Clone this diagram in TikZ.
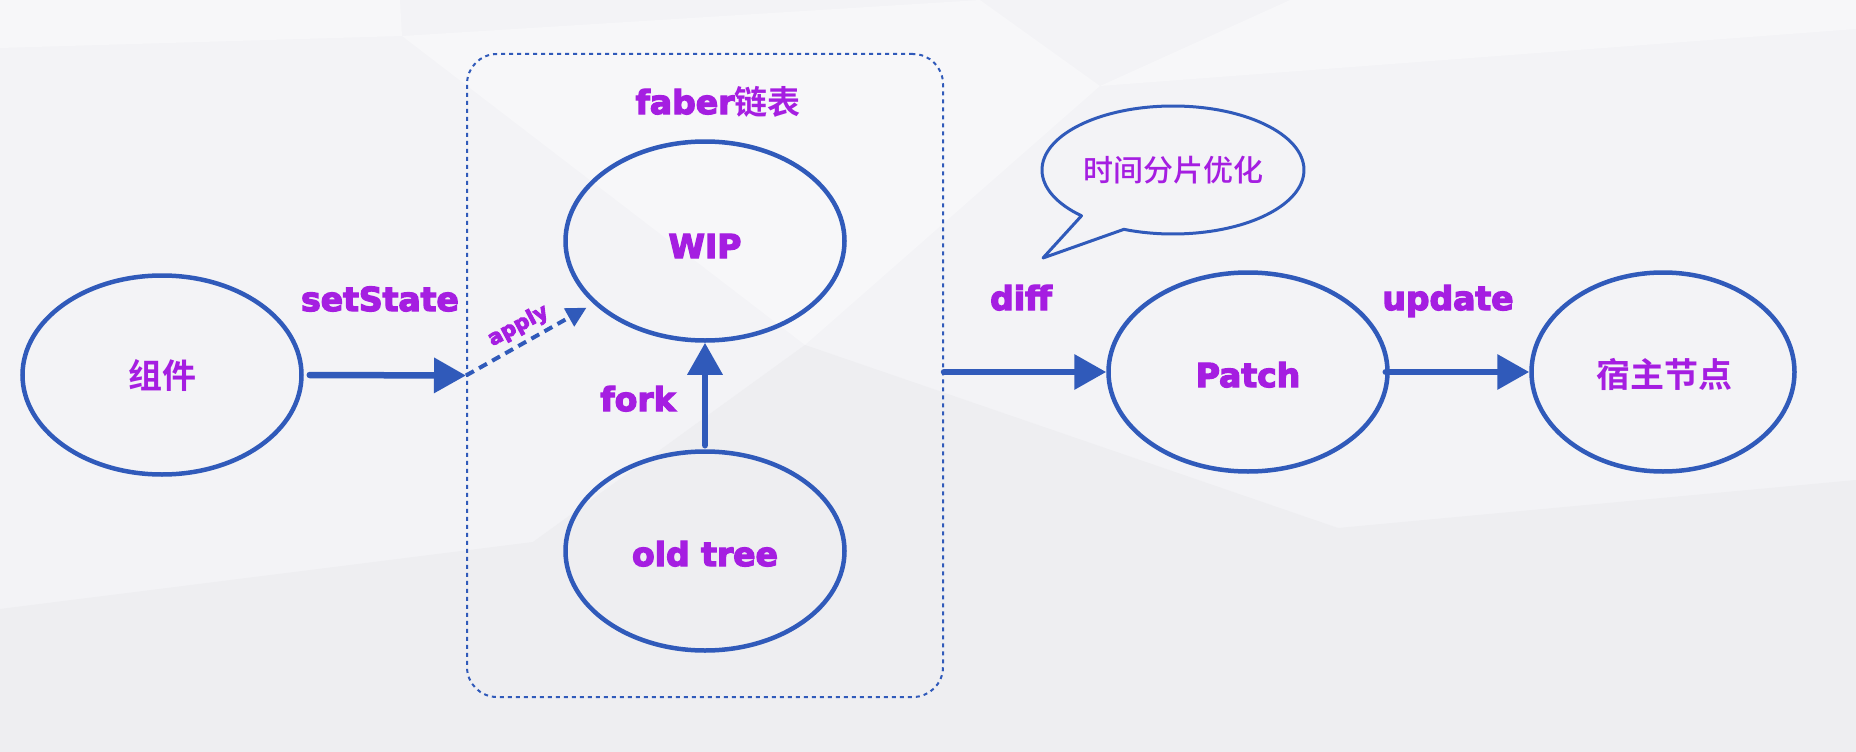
\documentclass[tikz,border=0pt]{standalone}
\usepackage{fontspec}
\usetikzlibrary{shapes.geometric,arrows.meta}
\newfontfamily\labfont{DejaVu Sans Bold}[FakeBold=4]
\IfFontExistsTF{Noto Sans CJK SC Medium}
  {\newfontfamily\cjkm{Noto Sans CJK SC Medium}}
  {\newfontfamily\cjkm{Noto Sans CJK SC}[FakeBold=2]}
\newfontfamily\cjkb{Noto Sans CJK SC Bold}
\definecolor{bgbase}{RGB}{243,243,246}
\definecolor{bglight}{RGB}{247,247,249}
\definecolor{bgdark}{RGB}{238,238,241}
\definecolor{ln}{RGB}{48,90,186}
\definecolor{pu}{RGB}{165,30,225}
\tikzset{
  oval/.style={ellipse, draw=ln, line width=4.5pt, inner sep=0pt, minimum width=279pt, minimum height=199pt},
  lbl/.style={text=pu, inner sep=0pt, font=\labfont\fontsize{33}{36}\selectfont},
  zh/.style={text=pu, inner sep=0pt, font=\cjkb\fontsize{34}{38}\selectfont},
  arr/.style={draw=ln, line width=6.5pt, line cap=round, -{Triangle[length=32pt,width=34pt]}},
  dasharr/.style={draw=ln, line width=4pt, dash pattern=on 9pt off 6pt, -{Triangle[length=20pt,width=20pt]}},
  groupbox/.style={draw=ln, line width=2pt, dash pattern=on 4pt off 4pt, rounded corners=30pt, inner sep=0pt},
  bubble/.style={draw=ln, line width=3pt, line join=round}
}
\begin{document}
\begin{tikzpicture}[x=1pt,y=-1pt]
% background
\fill[bgbase] (0,0) rectangle (1856,752);
\useasboundingbox (0,0) rectangle (1856,752);
\fill[bglight] (0,0) -- (400,0) -- (402,36) -- (0,48) -- cycle;
\fill[bglight] (402,36) -- (980,0) -- (1100,86) -- (805,345) -- cycle;
\fill[bglight] (1290,0) -- (1856,0) -- (1856,29) -- (1100,86) -- cycle;
\fill[bgdark] (0,609) -- (533,542) -- (805,345) -- (1338,528) -- (1856,480) -- (1856,752) -- (0,752) -- cycle;

% group box
\node[groupbox, minimum width=476pt, minimum height=643pt] (box) at (705,375.5) {};
\node[lbl, anchor=base] (title) at (718,114) {faber{\cjkb 链表}};

% ellipses
\node[oval] (zj) at (162,375) {};
\node[zh] at (zj) {组件};
\node[oval] (wip) at (705,241) {};
\node[lbl, anchor=base] at (705,258) {WIP};
\node[oval] (old) at (705,551) {};
\node[lbl, anchor=base] at (705,566) {old tree};
\node[oval] (patch) at (1248,372) {};
\node[lbl, anchor=base] at (1248,387) {Patch};
\node[oval, minimum width=263pt] (host) at (1663,372) {};
\node[zh] at (1664,374) {宿主节点};

% speech bubble
\node[text=pu, inner sep=0pt, font=\cjkm\fontsize{30}{34}\selectfont] (tip) at (1173,170) {时间分片优化};
\draw[bubble] (1124,229.3) -- (1043,258) -- (1081.5,215.8)
  arc[start angle=225.7, end angle=-112, x radius=131pt, y radius=64pt] -- cycle;

% connectors
\draw[arr, shorten <=6pt] (zj.east) -- (box.west);
\draw[dasharr, shorten >=8pt] (box.west) -- (wip);
\draw[arr, shorten <=4pt] (old.north) -- (wip.south);
\draw[arr] (box.east |- patch.west) -- (patch.west);
\draw[arr, shorten <=-4pt] (patch.east) -- (host.west);

% labels
\node[lbl, anchor=base] (l1) at (380,311) {setState};
\node[lbl, anchor=base, rotate=28, font=\labfont\fontsize{21}{24}\selectfont] (l2) at (521,331) {apply};
\node[lbl, anchor=base] (l3) at (638,411) {fork};
\node[lbl, anchor=base] (l4) at (1021,310) {diff};
\node[lbl, anchor=base] (l5) at (1448,310) {update};
\end{tikzpicture}
\end{document}
